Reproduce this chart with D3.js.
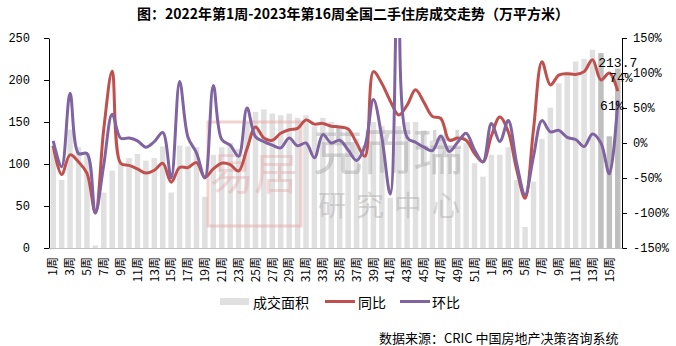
<!DOCTYPE html>
<html><head><meta charset="utf-8">
<script src="https://cdn.jsdelivr.net/npm/d3@7"></script>
<style>
body{margin:0;background:#fff;}
svg{display:block;}
</style></head><body>
<svg id="chart" width="676" height="346"></svg>
<script>
const title = "图：2022年第1周-2023年第16周全国二手住房成交走势（万平方米）";
const weekLabels = [
 "1周","2周","3周","4周","5周","6周","7周","8周","9周","10周","11周","12周","13周","14周","15周","16周","17周","18周","19周","20周",
 "21周","22周","23周","24周","25周","26周","27周","28周","29周","30周","31周","32周","33周","34周","35周","36周","37周","38周","39周","40周",
 "41周","42周","43周","44周","45周","46周","47周","48周","49周","50周","51周","52周",
 "1周","2周","3周","4周","5周","6周","7周","8周","9周","10周","11周","12周","13周","14周","15周","16周"
];
const shownLabels = ["1周","3周","5周","7周","9周","11周","13周","15周","17周","19周","21周","23周","25周","27周","29周","31周","33周","35周","37周","39周","41周","43周","45周","47周","49周","51周"];
const area = [
 122,81,141,120,113,3,66,92,100,107,112,104,107,121,66,122,121,120,61,111,
 120,125,118,150,162,165,160,158,160,155,158,145,155,150,145,140,130,122,150,145,
 60,145,150,150,140,128,135,122,120,125,101,85,
 111,111,120,81,25,79,130,167,196,210,222,225,236,232,133,213.7
];
const yoy = [
 -4,-45,-17,-27,-43,-100,20,103,-29,-32,-37,-43,-39,-29,-56,-35,-35,-28,-49,-37,
 -29,-31,-40,-8,23,7,4,14,19,21,33,27,28,24,23,20,0,-19,102,85,
 60,40,54,76,58,38,35,4,7,4,-15,-27,
 10,37,16,-38,-79,20,116,83,97,99,98,102,119,90,100,74
];
const mom = [
 3,-34,71,-15,-15,-100,-31,41,7,7,3,-6,2,15,-50,88,8,-14,-50,82,
 5,-3,-19,50,9,2,-3,-7,7,-4,0,-21,12,0,4,-10,-25,-4,62,8,
 -73,330,8,1,-6,-11,10,-12,1,14,-10,-27,
 28,2,32,-29,-74,-19,32,16,18,8,5,-5,13,0,-44,61
];
const leftTicks = [0,50,100,150,200,250];
const rightTicks = [-150,-100,-50,0,50,100,150];
const seriesNames = ["成交面积","同比","环比"];
const sourceText = "数据来源：CRIC 中国房地产决策咨询系统";
const endLabels = ["213.7","74%","61%"];

const svg = d3.select("#chart");
const L = 49, R = 622, T = 38, B = 248;
const n = area.length;
const idx = d3.range(n);
const x = d3.scaleBand().domain(idx).range([L, R]).paddingInner(0.35).paddingOuter(0.175);
const yL = d3.scaleLinear().domain([0, 250]).range([B, T]);
const yR = d3.scaleLinear().domain([-150, 150]).range([B, T]);
const cx = i => x(i) + x.bandwidth() / 2;
const CJK = "'Noto Sans CJK SC', 'Noto Sans', sans-serif";

// title
svg.append("text").attr("x", 353).attr("y", 13).attr("text-anchor", "middle")
  .attr("dominant-baseline", "central").attr("font-family", CJK).attr("font-weight", "bold")
  .attr("font-size", 14).attr("fill", "#000").text(title);

// bars
svg.append("g").selectAll("rect").data(area).join("rect")
  .attr("x", (d, i) => x(i)).attr("width", x.bandwidth())
  .attr("y", d => yL(d)).attr("height", d => B - yL(d))
  .attr("fill", (d, i) => i >= n - 3 ? "#bfbfbf" : "#e0e0e0");

// watermark
const wm = svg.append("g");
wm.append("rect").attr("x", 208).attr("y", 122).attr("width", 93).attr("height", 104)
  .attr("fill", "none").attr("stroke", "#e8a6a6").attr("stroke-width", 3).attr("opacity", 0.5);
wm.append("text").attr("x", 254).attr("y", 190).attr("text-anchor", "middle")
  .attr("font-family", CJK).attr("font-size", 44).attr("fill", "#e08c8c").attr("opacity", 0.3).text("易居");
wm.append("text").attr("x", 313).attr("y", 170).attr("font-family", CJK)
  .attr("font-size", 50).attr("fill", "#a0a0a0").attr("opacity", 0.42).text("克而瑞");
wm.append("text").attr("x", 318).attr("y", 216).attr("font-family", CJK).attr("letter-spacing", 10)
  .attr("font-size", 28).attr("fill", "#a0a0a0").attr("opacity", 0.38).text("研究中心");

// lines
svg.append("clipPath").attr("id", "plotclip").append("rect")
  .attr("x", L).attr("y", T).attr("width", R - L).attr("height", B - T);
const lineGen = d3.line().x((d, i) => cx(i)).y(d => yR(d)).curve(d3.curveCatmullRom.alpha(0.5));
const lg = svg.append("g").attr("clip-path", "url(#plotclip)");
lg.append("path").attr("d", lineGen(yoy)).attr("fill", "none").attr("stroke", "#c0504d")
  .attr("stroke-width", 3).attr("stroke-linejoin", "round");
lg.append("path").attr("d", lineGen(mom)).attr("fill", "none").attr("stroke", "#8064a2")
  .attr("stroke-width", 3).attr("stroke-linejoin", "round");

// axes
const axisFont = "'Liberation Mono', monospace";
const gl = svg.append("g").attr("transform", `translate(${L},0)`)
  .call(d3.axisLeft(yL).tickValues(leftTicks).tickSize(5).tickSizeOuter(0).tickPadding(14));
const gr = svg.append("g").attr("transform", `translate(${R},0)`)
  .call(d3.axisRight(yR).tickValues(rightTicks).tickSize(5).tickSizeOuter(0).tickPadding(6)
    .tickFormat(d => d + "%"));
[gl, gr].forEach(g => {
  g.selectAll("path,line").attr("stroke", "#000");
  g.selectAll("text").attr("font-family", axisFont).attr("font-size", 12).attr("fill", "#000");
});
const gx = svg.append("g").attr("transform", `translate(0,${B})`)
  .call(d3.axisBottom(x).tickValues(idx.filter(i => shownLabels.includes(weekLabels[i])))
    .tickFormat(i => weekLabels[i]).tickSize(0).tickSizeOuter(0));
gx.select(".domain").attr("stroke", "#bfbfbf");
gx.selectAll("text").attr("transform", "rotate(-90)").attr("text-anchor", "end")
  .attr("x", -9).attr("y", 0).attr("dy", "0.35em")
  .attr("font-family", CJK).attr("font-size", 12).attr("fill", "#000");

// end labels
const last = n - 1;
svg.append("text").attr("x", cx(last)).attr("y", yL(area[last]) - 1).attr("text-anchor", "middle")
  .attr("font-family", axisFont).attr("font-size", 13).attr("fill", "#000").text(endLabels[0]);
svg.append("text").attr("x", cx(last) + 3).attr("y", yR(yoy[last]) - 9).attr("text-anchor", "middle")
  .attr("font-family", axisFont).attr("font-size", 13).attr("fill", "#000").text(endLabels[1]);
svg.append("text").attr("x", cx(last) - 6).attr("y", yR(mom[last]) + 10).attr("text-anchor", "middle")
  .attr("font-family", axisFont).attr("font-size", 13).attr("fill", "#000").text(endLabels[2]);

// legend
const leg = svg.append("g").attr("font-family", CJK).attr("font-size", 14).attr("fill", "#000");
leg.append("rect").attr("x", 220).attr("y", 298).attr("width", 29).attr("height", 7).attr("fill", "#e0e0e0");
leg.append("text").attr("x", 253).attr("y", 301.5).attr("dominant-baseline", "central").text(seriesNames[0]);
leg.append("line").attr("x1", 325).attr("x2", 355).attr("y1", 301.5).attr("y2", 301.5)
  .attr("stroke", "#c0504d").attr("stroke-width", 3);
leg.append("text").attr("x", 358).attr("y", 301.5).attr("dominant-baseline", "central").text(seriesNames[1]);
leg.append("line").attr("x1", 400).attr("x2", 430).attr("y1", 301.5).attr("y2", 301.5)
  .attr("stroke", "#8064a2").attr("stroke-width", 3);
leg.append("text").attr("x", 432).attr("y", 301.5).attr("dominant-baseline", "central").text(seriesNames[2]);

// source
svg.append("text").attr("x", 379).attr("y", 337).attr("dominant-baseline", "central")
  .attr("font-family", CJK).attr("font-size", 13).attr("fill", "#000").text(sourceText);
</script>
</body></html>
